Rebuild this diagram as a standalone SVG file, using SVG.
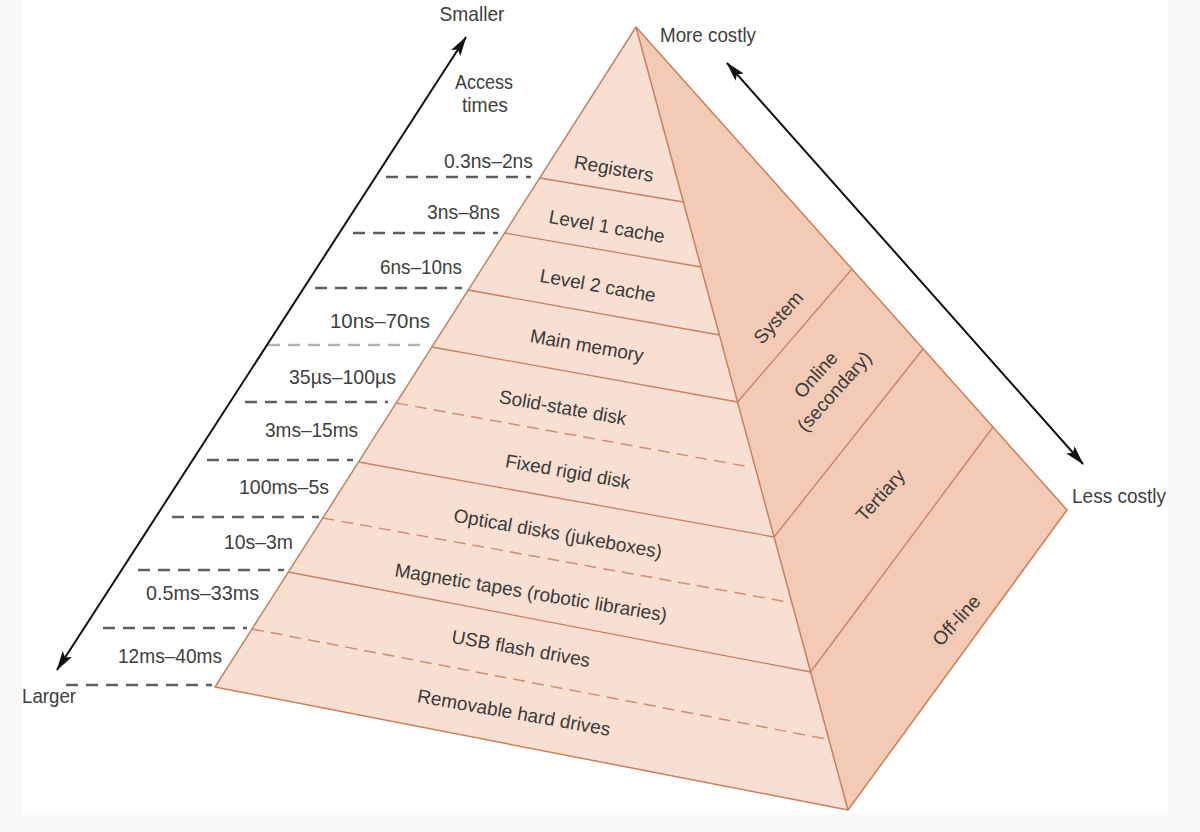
<svg xmlns="http://www.w3.org/2000/svg" width="1200" height="832" viewBox="0 0 1200 832">
<style>
.t{font-family:"Liberation Sans",Arial,sans-serif;font-size:21px;fill:#404040}
.tf{font-family:"Liberation Sans",Arial,sans-serif;font-size:19px;fill:#3a3a3a}
.front{fill:#f8dfd2;stroke:none}
.side{fill:#f2cab5;stroke:none}
.edge{fill:none;stroke:#c8805f;stroke-width:1.5;stroke-linejoin:round}
.band{stroke:#c8805f;stroke-width:1.3;fill:none}
.bandd{stroke:#d08f70;stroke-width:1.5;fill:none;stroke-dasharray:12 7}
.lead{stroke:#5e5e5e;stroke-width:2.4;stroke-dasharray:12 8;fill:none}
.arr{stroke:#111;stroke-width:2;fill:none;marker-start:url(#ah);marker-end:url(#ah)}
</style>
<defs>
<marker id="ah" viewBox="0 0 20 11" refX="19" refY="5.5" markerWidth="20" markerHeight="11" markerUnits="userSpaceOnUse" orient="auto-start-reverse">
<path d="M0,0 L20,5.5 L0,11 L4,5.5 z" fill="#111"/>
</marker>
</defs>
<rect x="0" y="0" width="1200" height="832" fill="#f9f9f9"/>
<rect x="22" y="0" width="1146" height="813" fill="#ffffff"/>

<g id="front-face">
<g id="registers"><polygon class="front" points="636,27 539.7,178 683.4,202"/><text class="tf" transform="translate(614,168) rotate(10)" x="0" y="7" text-anchor="middle">Registers</text></g>
<g id="level1"><polygon class="front" points="539.7,178 683.4,202 701,267 504.6,233"/><text class="tf" transform="translate(607,226) rotate(10)" x="0" y="7" text-anchor="middle">Level 1 cache</text></g>
<g id="level2"><polygon class="front" points="504.6,233 701,267 719.4,335 468.3,290"/><text class="tf" transform="translate(598,285) rotate(10)" x="0" y="7" text-anchor="middle">Level 2 cache</text></g>
<g id="main-memory"><polygon class="front" points="468.3,290 719.4,335 737.6,402 431.9,347"/><text class="tf" transform="translate(587,345) rotate(10)" x="0" y="7" text-anchor="middle">Main memory</text></g>
<g id="ssd"><polygon class="front" points="431.9,347 737.6,402 755.5,468 396.2,403"/><text class="tf" transform="translate(563,407) rotate(10)" x="0" y="7" text-anchor="middle">Solid-state disk</text></g>
<g id="fixed-disk"><polygon class="front" points="396.2,403 755.5,468 774.1,537 358.5,462"/><text class="tf" transform="translate(568,471) rotate(10)" x="0" y="7" text-anchor="middle">Fixed rigid disk</text></g>
<g id="optical"><polygon class="front" points="358.5,462 774.1,537 792,603 322.8,518"/><text class="tf" transform="translate(558,533) rotate(10)" x="0" y="7" text-anchor="middle">Optical disks (jukeboxes)</text></g>
<g id="magnetic"><polygon class="front" points="322.8,518 792,603 810.6,672 288.3,572"/><text class="tf" transform="translate(531,592) rotate(9.5)" x="0" y="7" text-anchor="middle">Magnetic tapes (robotic libraries)</text></g>
<g id="usb"><polygon class="front" points="288.3,572 810.6,672 829,740 252,629"/><text class="tf" transform="translate(521,648) rotate(10)" x="0" y="7" text-anchor="middle">USB flash drives</text></g>
<g id="removable"><polygon class="front" points="252,629 829,740 848,810 215,687"/><text class="tf" transform="translate(514,712) rotate(10)" x="0" y="7" text-anchor="middle">Removable hard drives</text></g>
</g>

<g id="side-face">
<g id="system"><polygon class="side" points="636,27 852,269 737.6,402"/><text class="tf" transform="translate(778,317) rotate(-48)" x="0" y="7" text-anchor="middle">System</text></g>
<g id="online"><polygon class="side" points="737.6,402 852,269 923,349 774.1,537"/><text class="tf" transform="translate(825,383) rotate(-48)" text-anchor="middle"><tspan x="0" y="-6">Online</tspan><tspan x="0" y="19">(secondary)</tspan></text></g>
<g id="tertiary"><polygon class="side" points="774.1,537 923,349 993,427 810.6,672"/><text class="tf" transform="translate(880,495) rotate(-48)" x="0" y="7" text-anchor="middle">Tertiary</text></g>
<g id="offline"><polygon class="side" points="810.6,672 993,427 1067,510 848,810"/><text class="tf" transform="translate(956,620) rotate(-48)" x="0" y="7" text-anchor="middle">Off-line</text></g>
</g>

<g id="band-lines">
<line class="band" x1="539.7" y1="178" x2="683.4" y2="202"/>
<line class="band" x1="504.6" y1="233" x2="701" y2="267"/>
<line class="band" x1="468.3" y1="290" x2="719.4" y2="335"/>
<line class="band" x1="431.9" y1="347" x2="737.6" y2="402"/>
<line class="bandd" x1="396.2" y1="403" x2="750" y2="467"/>
<line class="band" x1="358.5" y1="462" x2="774.1" y2="537"/>
<line class="bandd" x1="322.8" y1="518" x2="788" y2="602"/>
<line class="band" x1="288.3" y1="572" x2="810.6" y2="672"/>
<line class="bandd" x1="252" y1="629" x2="826" y2="739"/>
<line class="band" x1="737.6" y1="402" x2="852" y2="269"/>
<line class="band" x1="774.1" y1="537" x2="923" y2="349"/>
<line class="band" x1="810.6" y1="672" x2="993" y2="427"/>
<polygon class="edge" points="636,27 1067,510 848,810 215,687"/>
<line class="edge" x1="636" y1="27" x2="848" y2="810"/>
</g>

<g id="connectors">
<line class="lead" x1="386" y1="177" x2="531" y2="177"/>
<line class="lead" x1="353" y1="233" x2="498" y2="233"/>
<line class="lead" x1="315" y1="288" x2="462" y2="288"/>
<line class="lead" x1="268" y1="345" x2="426" y2="345" style="stroke:#b4b4b4"/>
<line class="lead" x1="245" y1="402" x2="388" y2="402"/>
<line class="lead" x1="207" y1="460" x2="353" y2="460"/>
<line class="lead" x1="172" y1="517" x2="319" y2="517"/>
<line class="lead" x1="138" y1="570" x2="284" y2="570"/>
<line class="lead" x1="103" y1="628" x2="247" y2="628"/>
<line class="lead" x1="66" y1="685" x2="212" y2="685"/>
<line class="arr" x1="57" y1="670" x2="466" y2="37"/>
<line class="arr" x1="727" y1="63" x2="1083" y2="464"/>
</g>

<g id="labels">
<text class="t" x="472" y="21" text-anchor="middle" textLength="65" lengthAdjust="spacingAndGlyphs">Smaller</text>
<text class="t" x="484" y="89" text-anchor="middle" textLength="58" lengthAdjust="spacingAndGlyphs">Access</text>
<text class="t" x="485" y="112" text-anchor="middle" textLength="46" lengthAdjust="spacingAndGlyphs">times</text>
<text class="t" x="488.5" y="168" text-anchor="middle" textLength="89" lengthAdjust="spacingAndGlyphs">0.3ns–2ns</text>
<text class="t" x="463.5" y="219" text-anchor="middle" textLength="73" lengthAdjust="spacingAndGlyphs">3ns–8ns</text>
<text class="t" x="421" y="274" text-anchor="middle" textLength="82" lengthAdjust="spacingAndGlyphs">6ns–10ns</text>
<text class="t" x="380" y="328" text-anchor="middle" textLength="100" lengthAdjust="spacingAndGlyphs">10ns–70ns</text>
<text class="t" x="342.5" y="384" text-anchor="middle" textLength="107" lengthAdjust="spacingAndGlyphs">35µs–100µs</text>
<text class="t" x="311.5" y="437" text-anchor="middle" textLength="93" lengthAdjust="spacingAndGlyphs">3ms–15ms</text>
<text class="t" x="284" y="494" text-anchor="middle" textLength="90" lengthAdjust="spacingAndGlyphs">100ms–5s</text>
<text class="t" x="258.5" y="549" text-anchor="middle" textLength="69" lengthAdjust="spacingAndGlyphs">10s–3m</text>
<text class="t" x="202.5" y="600" text-anchor="middle" textLength="113" lengthAdjust="spacingAndGlyphs">0.5ms–33ms</text>
<text class="t" x="170" y="663" text-anchor="middle" textLength="104" lengthAdjust="spacingAndGlyphs">12ms–40ms</text>
<text class="t" x="49" y="703" text-anchor="middle" textLength="54" lengthAdjust="spacingAndGlyphs">Larger</text>
<text class="t" x="660" y="42" textLength="96" lengthAdjust="spacingAndGlyphs">More costly</text>
<text class="t" x="1072" y="503" textLength="94" lengthAdjust="spacingAndGlyphs">Less costly</text>
</g>
</svg>
